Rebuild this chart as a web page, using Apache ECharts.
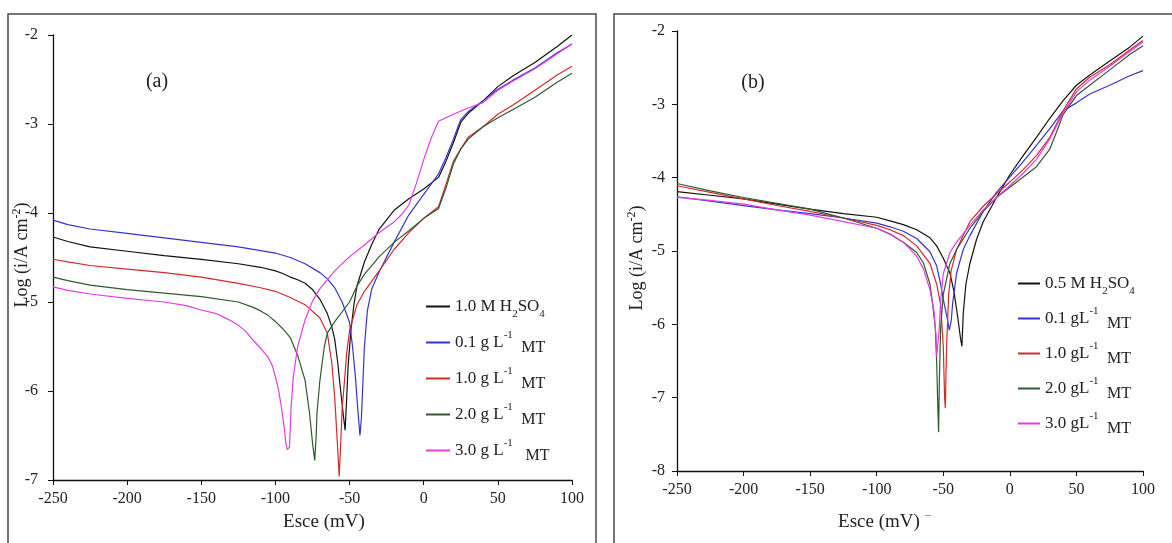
<!DOCTYPE html>
<html><head><meta charset="utf-8">
<script src="https://cdn.jsdelivr.net/npm/echarts@6/dist/echarts.min.js"></script>
<style>html,body{margin:0;padding:0;background:#fff}#c{width:1172px;height:543px}</style>
</head><body><div id="c"></div>
<script>
// ---- Panel (a) data: [E (mV), log i] ----
const a_blank = [[-250,-4.27],[-240,-4.32],[-225,-4.38],[-200,-4.43],[-175,-4.48],[-150,-4.52],[-125,-4.57],[-110,-4.61],[-100,-4.65],[-95,-4.68],[-90,-4.72],[-85,-4.75],[-80,-4.79],[-75,-4.86],[-70,-4.97],[-65,-5.13],[-62,-5.28],[-60,-5.42],[-58,-5.68],[-56,-6.0],[-54,-6.3],[-53,-6.44],[-52,-6.1],[-51,-5.72],[-49,-5.3],[-47,-5.02],[-45,-4.82],[-40,-4.55],[-35,-4.35],[-30,-4.18],[-20,-3.97],[-10,-3.84],[0,-3.73],[10,-3.6],[15,-3.42],[20,-3.21],[25,-2.98],[30,-2.88],[40,-2.74],[50,-2.58],[60,-2.46],[75,-2.31],[90,-2.13],[100,-2.0]];
const a_mt01 = [[-250,-4.08],[-240,-4.13],[-225,-4.18],[-200,-4.23],[-175,-4.28],[-150,-4.33],[-125,-4.38],[-100,-4.45],[-90,-4.5],[-80,-4.57],[-70,-4.67],[-65,-4.74],[-60,-4.84],[-55,-5.0],[-50,-5.23],[-48,-5.5],[-46,-5.85],[-44.5,-6.2],[-43,-6.5],[-42,-6.3],[-41,-5.9],[-40,-5.5],[-38,-5.1],[-35,-4.85],[-30,-4.66],[-20,-4.33],[-10,-4.02],[0,-3.79],[10,-3.56],[15,-3.38],[20,-3.17],[25,-2.95],[30,-2.86],[40,-2.74],[50,-2.61],[60,-2.51],[75,-2.37],[90,-2.2],[100,-2.1]];
const a_mt10 = [[-250,-4.52],[-240,-4.55],[-225,-4.59],[-200,-4.63],[-175,-4.67],[-150,-4.72],[-125,-4.79],[-110,-4.84],[-100,-4.88],[-90,-4.95],[-80,-5.03],[-70,-5.18],[-65,-5.35],[-62,-5.68],[-60,-6.08],[-58,-6.65],[-57,-6.96],[-56,-6.6],[-55,-6.2],[-53,-5.8],[-52,-5.58],[-50,-5.32],[-45,-5.03],[-40,-4.88],[-30,-4.65],[-20,-4.41],[-10,-4.22],[0,-4.06],[10,-3.93],[15,-3.68],[20,-3.42],[25,-3.28],[30,-3.15],[40,-3.03],[50,-2.89],[60,-2.79],[75,-2.62],[90,-2.45],[100,-2.35]];
const a_mt20 = [[-250,-4.72],[-240,-4.76],[-225,-4.81],[-200,-4.86],[-175,-4.9],[-150,-4.94],[-125,-5.0],[-115,-5.06],[-110,-5.1],[-105,-5.15],[-100,-5.22],[-95,-5.3],[-90,-5.4],[-85,-5.6],[-80,-5.88],[-77,-6.25],[-75,-6.58],[-73.5,-6.78],[-72.5,-6.5],[-72,-6.25],[-70,-5.88],[-67,-5.5],[-65,-5.35],[-60,-5.22],[-50,-5.0],[-45,-4.82],[-40,-4.69],[-30,-4.49],[-20,-4.33],[-10,-4.2],[0,-4.06],[10,-3.95],[15,-3.72],[20,-3.45],[25,-3.28],[30,-3.17],[40,-3.03],[50,-2.93],[60,-2.84],[75,-2.7],[90,-2.53],[100,-2.43]];
const a_mt30 = [[-250,-4.83],[-240,-4.87],[-225,-4.91],[-200,-4.96],[-175,-5.0],[-160,-5.04],[-150,-5.09],[-140,-5.13],[-135,-5.17],[-130,-5.21],[-125,-5.26],[-120,-5.33],[-115,-5.43],[-110,-5.52],[-105,-5.62],[-102,-5.72],[-100,-5.84],[-98,-5.98],[-96,-6.18],[-94,-6.42],[-93,-6.58],[-92,-6.66],[-90.5,-6.63],[-89.5,-6.2],[-88,-5.85],[-85,-5.5],[-80,-5.2],[-75,-4.99],[-70,-4.85],[-60,-4.65],[-50,-4.49],[-40,-4.36],[-30,-4.22],[-20,-4.1],[-15,-4.02],[-10,-3.91],[-5,-3.67],[0,-3.4],[5,-3.16],[10,-2.97],[20,-2.89],[30,-2.82],[40,-2.76],[50,-2.62],[60,-2.52],[75,-2.38],[90,-2.21],[100,-2.1]];

// ---- Panel (b) data ----
const b_blank = [[-250,-4.19],[-225,-4.24],[-200,-4.29],[-175,-4.36],[-150,-4.43],[-125,-4.49],[-100,-4.54],[-90,-4.59],[-80,-4.64],[-70,-4.71],[-60,-4.82],[-55,-4.93],[-50,-5.1],[-45,-5.3],[-42,-5.55],[-39,-5.92],[-37,-6.2],[-36,-6.3],[-35,-5.85],[-33,-5.45],[-30,-5.17],[-25,-4.84],[-20,-4.6],[-10,-4.27],[0,-3.96],[10,-3.7],[20,-3.45],[30,-3.19],[40,-2.95],[50,-2.74],[60,-2.6],[75,-2.41],[90,-2.22],[100,-2.07]];
const b_mt01 = [[-250,-4.26],[-225,-4.32],[-200,-4.38],[-175,-4.44],[-150,-4.49],[-125,-4.55],[-100,-4.62],[-90,-4.67],[-80,-4.73],[-70,-4.83],[-60,-5.01],[-55,-5.2],[-52,-5.45],[-50,-5.66],[-47,-5.92],[-45.5,-6.08],[-44,-5.95],[-43,-5.72],[-40,-5.3],[-35,-4.98],[-30,-4.79],[-20,-4.46],[-10,-4.2],[0,-3.99],[10,-3.78],[20,-3.56],[30,-3.33],[40,-3.09],[50,-2.98],[60,-2.86],[75,-2.74],[90,-2.61],[100,-2.54]];
const b_mt10 = [[-250,-4.11],[-225,-4.2],[-200,-4.29],[-175,-4.38],[-150,-4.46],[-125,-4.55],[-100,-4.65],[-90,-4.71],[-80,-4.79],[-70,-4.93],[-60,-5.17],[-55,-5.45],[-52,-5.73],[-50,-6.3],[-49,-7.0],[-48.5,-7.14],[-47.5,-6.3],[-46,-5.6],[-44,-5.26],[-40,-4.98],[-35,-4.79],[-30,-4.6],[-20,-4.39],[-10,-4.22],[0,-4.06],[10,-3.89],[20,-3.7],[30,-3.45],[40,-3.09],[50,-2.79],[60,-2.63],[75,-2.46],[90,-2.26],[100,-2.13]];
const b_mt20 = [[-250,-4.08],[-225,-4.18],[-200,-4.27],[-175,-4.35],[-150,-4.43],[-125,-4.55],[-100,-4.69],[-90,-4.77],[-80,-4.88],[-70,-5.02],[-65,-5.16],[-60,-5.45],[-58,-5.72],[-56,-6.05],[-55,-6.5],[-54,-7.2],[-53.5,-7.47],[-53,-6.8],[-52,-6.05],[-50,-5.59],[-45,-5.17],[-40,-4.98],[-30,-4.69],[-20,-4.46],[-10,-4.27],[0,-4.13],[10,-3.99],[20,-3.85],[30,-3.61],[35,-3.38],[40,-3.14],[50,-2.88],[60,-2.74],[75,-2.53],[90,-2.32],[100,-2.2]];
const b_mt30 = [[-250,-4.27],[-225,-4.31],[-200,-4.36],[-175,-4.44],[-150,-4.51],[-125,-4.6],[-100,-4.69],[-90,-4.77],[-80,-4.88],[-70,-5.07],[-65,-5.24],[-60,-5.53],[-57,-5.82],[-55.5,-6.15],[-55,-6.44],[-53.5,-6.44],[-53,-6.05],[-52,-5.68],[-50,-5.31],[-45,-5.02],[-40,-4.88],[-30,-4.65],[-20,-4.44],[-10,-4.27],[0,-4.11],[10,-3.94],[20,-3.75],[30,-3.47],[40,-3.12],[50,-2.83],[60,-2.67],[75,-2.48],[90,-2.28],[100,-2.15]];

const xTicksMin = -250, xTicksMax = 100, xStep = 50;
const aYMin = -7, aYMax = -2, bYMin = -8, bYMax = -2, yStep = 1;

const COLORS = ['#111111','#3434d2','#d42a2a','#2e5a2e','#e23ce2'];
const SERIF = '"Liberation Serif","DejaVu Serif",serif';

const aNames = ['a0','a1','a2','a3','a4'];
const bNames = ['b0','b1','b2','b3','b4'];
const aData = [a_blank,a_mt01,a_mt10,a_mt20,a_mt30];
const bData = [b_blank,b_mt01,b_mt10,b_mt20,b_mt30];
const aLabels = ['{n|1.0 M H}{sub|2}{n|SO}{sub|4}','{n|0.1 g L}{sup|-1}{n|  }{low|MT}','{n|1.0 g L}{sup|-1}{n|  }{low|MT}','{n|2.0 g L}{sup|-1}{n|  }{low|MT}','{n|3.0 g L}{sup|-1}{n|   }{low|MT}'];
const bLabels = ['{n|0.5 M H}{sub|2}{n|SO}{sub|4}','{n|0.1 gL}{sup|-1}{n|  }{low|MT}','{n|1.0 gL}{sup|-1}{n|  }{low|MT}','{n|2.0 gL}{sup|-1}{n|  }{low|MT}','{n|3.0 gL}{sup|-1}{n|  }{low|MT}'];

const rich = {
  n:{fontFamily:SERIF,fontSize:17,color:'#222',lineHeight:26,verticalAlign:'middle'},
  sub:{fontFamily:SERIF,fontSize:11,color:'#222',lineHeight:18,verticalAlign:'bottom'},
  sup:{fontFamily:SERIF,fontSize:11,color:'#222',lineHeight:17,verticalAlign:'top'},
  low:{fontFamily:SERIF,fontSize:16,color:'#222',lineHeight:16,verticalAlign:'bottom'}
};

function xAxis(gi,m){return {type:'value',gridIndex:gi,min:xTicksMin,max:xTicksMax,interval:xStep,
  axisLine:{show:true,onZero:false,lineStyle:{color:'#111',width:1.3}},axisTick:{show:true,inside:false,length:5,lineStyle:{color:'#111'}},
  splitLine:{show:false},axisLabel:{fontFamily:SERIF,fontSize:16,color:'#222',margin:m}};}
function yAxis(gi,mn,mx,m){return {type:'value',gridIndex:gi,min:mn,max:mx,interval:yStep,
  axisLine:{show:true,onZero:false,lineStyle:{color:'#111',width:1.3}},axisTick:{show:true,inside:false,length:5,lineStyle:{color:'#111'}},
  splitLine:{show:false},axisLabel:{fontFamily:SERIF,fontSize:16,color:'#222',margin:m}};}

const series = [];
aData.forEach((d,i)=>series.push({name:aNames[i],type:'line',xAxisIndex:0,yAxisIndex:0,data:d,symbol:'none',lineStyle:{color:COLORS[i],width:1.2},itemStyle:{color:COLORS[i]}}));
bData.forEach((d,i)=>series.push({name:bNames[i],type:'line',xAxisIndex:1,yAxisIndex:1,data:d,symbol:'none',lineStyle:{color:COLORS[i],width:1.2},itemStyle:{color:COLORS[i]}}));

const option = {
  animation:false,
  backgroundColor:'#fff',
  grid:[{left:53,top:35,width:519,height:445},{left:677,top:31,width:466,height:440}],
  xAxis:[xAxis(0,11),xAxis(1,11)],
  yAxis:[yAxis(0,aYMin,aYMax,15),yAxis(1,bYMin,bYMax,12)],
  legend:[
    {data:aNames,orient:'vertical',left:421,top:293,itemWidth:24,itemHeight:2,itemGap:10,icon:'rect',
     formatter:n=>aLabels[aNames.indexOf(n)],textStyle:{rich:rich},selectedMode:false},
    {data:bNames,orient:'vertical',left:1013,top:270,itemWidth:22,itemHeight:2,itemGap:9,icon:'rect',
     formatter:n=>bLabels[bNames.indexOf(n)],textStyle:{rich:rich},selectedMode:false}
  ],
  graphic:[
    {type:'rect',shape:{x:8,y:14,width:588,height:600},style:{fill:'none',stroke:'#4a4a4a',lineWidth:1.5},silent:true},
    {type:'rect',shape:{x:614,y:14,width:600,height:600},style:{fill:'none',stroke:'#4a4a4a',lineWidth:1.5},silent:true},
    {type:'text',x:157,y:82,style:{text:'(a)',font:'20px '+SERIF,fill:'#222',align:'center',verticalAlign:'middle'}},
    {type:'text',x:753,y:83,style:{text:'(b)',font:'20px '+SERIF,fill:'#222',align:'center',verticalAlign:'middle'}},
    {type:'text',x:324,y:522,style:{text:'Esce (mV)',font:'19px '+SERIF,fill:'#222',align:'center',verticalAlign:'middle'}},
    {type:'text',x:879,y:522,style:{text:'Esce (mV)',font:'19px '+SERIF,fill:'#222',align:'center',verticalAlign:'middle'}},
    {type:'text',x:928,y:516,style:{text:'--',font:'9px '+SERIF,fill:'#444',align:'center',verticalAlign:'middle'}},
    {type:'text',x:22,y:255,rotation:Math.PI/2,style:{text:'{m|Log (i/A cm}{s|-2}{m|)}',align:'center',verticalAlign:'middle',
      rich:{m:{fontFamily:SERIF,fontSize:18,fill:'#222',lineHeight:22,verticalAlign:'middle'},s:{fontFamily:SERIF,fontSize:12,fill:'#222',lineHeight:17,verticalAlign:'top'}}}},
    {type:'text',x:637,y:258,rotation:Math.PI/2,style:{text:'{m|Log (i/A cm}{s|-2}{m|)}',align:'center',verticalAlign:'middle',
      rich:{m:{fontFamily:SERIF,fontSize:18,fill:'#222',lineHeight:22,verticalAlign:'middle'},s:{fontFamily:SERIF,fontSize:12,fill:'#222',lineHeight:17,verticalAlign:'top'}}}}
  ],
  series:series
};
const chart = echarts.init(document.getElementById('c'),null,{renderer:'canvas'});
chart.setOption(option);
</script></body></html>
